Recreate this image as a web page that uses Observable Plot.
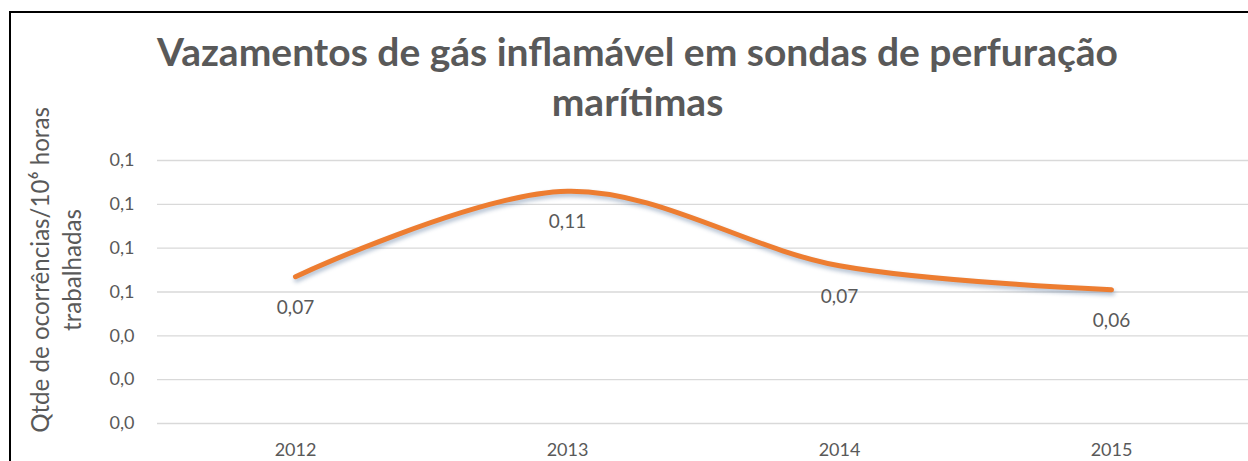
<!DOCTYPE html>
<html><head><meta charset="utf-8">
<script src="https://cdn.jsdelivr.net/npm/d3@7"></script>
<script src="https://cdn.jsdelivr.net/npm/@observablehq/plot@0.6"></script>
<style>
html,body{margin:0;padding:0;background:#fff;}
#wrap{position:relative;width:1248px;height:461px;overflow:hidden;font-family:Lato,sans-serif;}
#frame{position:absolute;left:9px;top:11px;width:1300px;height:500px;border-top:2px solid #000;border-left:2px solid #000;}
#title{position:absolute;left:0;width:1275px;top:26px;text-align:center;font-weight:bold;color:#595959;line-height:50px;font-size:35px;white-space:nowrap;}
#ylab{position:absolute;left:56px;top:270px;transform:translate(-50%,-50%) rotate(-90deg);white-space:nowrap;text-align:center;color:#595959;font-size:24px;line-height:32px;}
#chart{position:absolute;left:0;top:0;}
</style>
</head><body>
<div id="wrap">
  <div id="chart"></div>
  <div id="frame"></div>
  <div id="title"><span id="t1">Vazamentos de gás inflamável em sondas de perfuração</span><br><span>marítimas</span></div>
  <div id="ylab"><span id="y1">Qtde de ocorrências/10⁶ horas</span><br>trabalhadas</div>
</div>
<script>
const years = ["2012", "2013", "2014", "2015"];
const rates = [0.067, 0.106, 0.072, 0.061];
const yTicks = [0, 0.02, 0.04, 0.06, 0.08, 0.10, 0.12];

const data = years.map((y, i) => ({year: y, rate: rates[i]}));
const fmtTick = d => d3.format(".1f")(d).replace(".", ",");
const fmtVal = d => d3.format(".2f")(d).replace(".", ",");

// fit title and axis-title widths to the reference
(function(){
  const c = document.createElement("canvas").getContext("2d");
  c.font = "bold 100px Lato";
  const w = c.measureText(document.getElementById("t1").textContent).width;
  document.getElementById("title").style.fontSize = (100 * 961 / w) + "px";
  c.font = "100px Lato";
  const w2 = c.measureText(document.getElementById("y1").textContent).width;
  document.getElementById("ylab").style.fontSize = (100 * 326 / w2) + "px";
})();

const chart = Plot.plot({
  width: 1248, height: 461,
  marginTop: 160, marginBottom: 38, marginLeft: 157, marginRight: 0,
  style: {fontFamily: "Lato, sans-serif", fontSize: "18px", color: "#595959", background: "transparent"},
  x: {type: "point", domain: years, padding: 0.5, label: null, tickSize: 0, tickPadding: 20},
  y: {domain: [0, 0.12], ticks: yTicks, tickFormat: fmtTick, label: null, tickSize: 0, tickPadding: 23},
  marks: [
    Plot.ruleY(yTicks, {stroke: "#d9d9d9", strokeWidth: 1.3}),
    Plot.line(data, {x: "year", y: "rate", curve: "catmull-rom", stroke: "#ED7D31", strokeWidth: 5, strokeLinecap: "round"}),
    Plot.text(data, {x: "year", y: "rate", text: d => fmtVal(d.rate), dy: 31, fill: "#595959", fontSize: 19})
  ]
});
const lp = chart.querySelector('g[aria-label="line"] path');
if (lp) lp.style.filter = "drop-shadow(1px 3px 2px rgba(80,110,150,0.45))";
document.getElementById("chart").appendChild(chart);
</script>
</body></html>
